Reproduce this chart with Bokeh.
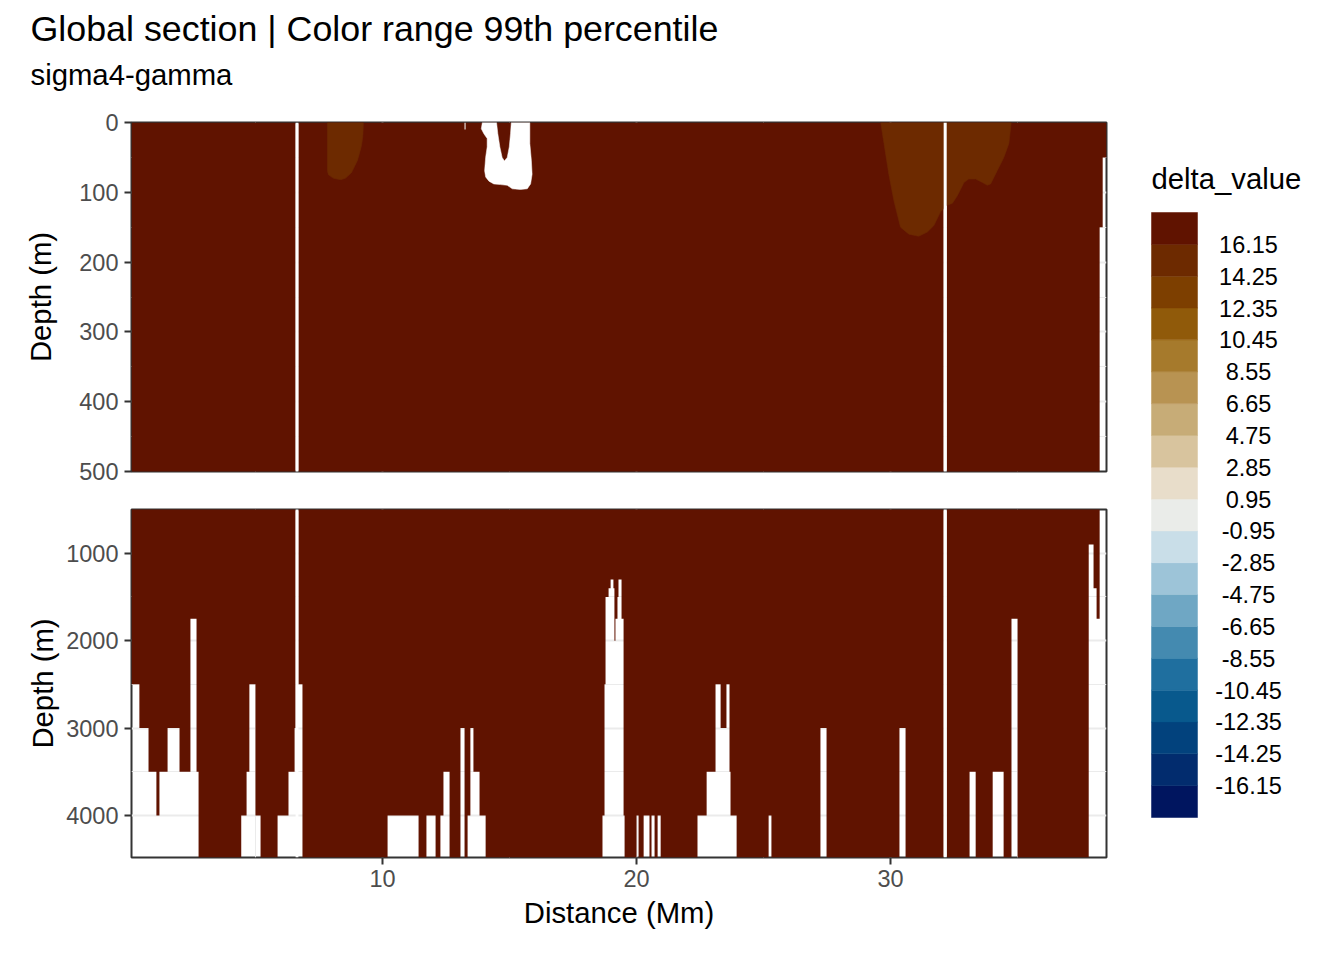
import numpy as np
from bokeh.plotting import figure
from bokeh.models import Range1d, FixedTicker, Title
from bokeh.layouts import column, row
from bokeh.core.properties import value
from bokeh.embed import file_html
from bokeh.resources import INLINE

FONT = "Liberation Sans"

# ---------------- texts ----------------
title_text = "Global section | Color range 99th percentile"
subtitle_text = "sigma4-gamma"
legend_title = "delta_value"
y_title = "Depth (m)"
x_title = "Distance (Mm)"

# ---------------- colour scale (binned) ----------------
legend_breaks = [-16.15, -14.25, -12.35, -10.45, -8.55, -6.65, -4.75, -2.85, -0.95,
                 0.95, 2.85, 4.75, 6.65, 8.55, 10.45, 12.35, 14.25, 16.15]
legend_limits = [-18.05, 18.05]
band_colors = ["#00155F", "#022C6E", "#02427D", "#08598D", "#1F6F9F", "#448AB0",
               "#6FA7C4", "#9DC4D8", "#C9DEE8", "#EAECE9", "#E8DDCA", "#D8C49E",
               "#C7AC77", "#B89352", "#A67A2C", "#905A0A", "#7D3F00", "#6D2A00",
               "#601300"]

# ---------------- axes ----------------
x_ticks = [10, 20, 30]
x_minor = [5, 15, 25, 35]
top_ticks = [0, 100, 200, 300, 400, 500]
top_minor = [50, 150, 250, 350, 450]
bot_ticks = [1000, 2000, 3000, 4000]
bot_minor = [1500, 2500, 3500]
dist_extent = [0.12, 38.50]
depth_split = 500
depth_max = 4480

# ---------------- section values ----------------
section_value = 17.6          # beyond the colour range -> top band
warm_value = 15.2             # 14.25 .. 16.15 band

warm1_dist = [7.83, 9.25, 9.23, 9.17, 9.02, 8.78, 8.54, 8.35, 8.07, 7.87, 7.83]
warm1_depth = [0, 0, 19, 34, 54, 72, 80, 82, 80, 75, 69]

warm2_dist = [29.61, 29.74, 29.93, 30.13, 30.39, 30.72, 31.11, 31.45, 31.70, 31.97,
              32.08, 32.19, 32.43, 32.63, 32.89, 33.08, 33.35, 33.61, 33.81, 33.94,
              34.20, 34.46, 34.66, 34.75]
warm2_depth = [0, 30, 74, 112, 150, 160, 163, 157, 148, 128,
               124, 119, 116, 105, 86, 81, 81, 86, 90, 88,
               69, 50, 30, 0]

na_blob_dist = [13.93, 14.49, 14.54, 14.62, 14.71, 14.80, 14.91, 14.99, 15.04, 15.07,
                15.80, 15.80, 15.86, 15.89, 15.83, 15.70, 15.43, 15.11, 14.91, 14.65,
                14.38, 14.19, 14.06, 14.02, 14.06, 14.12, 14.12, 13.99, 13.89]
na_blob_depth = [0, 0, 16, 35, 50, 55, 50, 35, 16, 0,
                 0, 30, 54, 74, 88, 95, 96, 95, 90, 89,
                 88, 84, 78, 69, 50, 35, 23, 16, 9]

# sea floor / missing deep cells: NA from floor_depth down to the bottom
floor_x0 = [0.12, 0.43, 0.79, 1.10, 1.22, 1.54, 2.01, 2.44, 2.68,
            4.44, 4.65, 4.76, 5.00, 5.87, 6.30, 6.54, 6.65,
            10.20, 11.73, 12.28, 12.40, 13.07, 13.35, 13.46, 13.58, 13.82,
            18.66, 18.74, 18.78, 18.90, 18.98, 19.09, 19.13, 19.17, 19.25, 19.29, 19.41, 19.49,
            20.00, 20.28, 20.59, 20.83,
            22.40, 22.76, 23.11, 23.31, 23.54, 23.66, 23.70, 25.20,
            27.24, 30.35, 33.11, 34.02, 34.76,
            37.80, 37.99, 38.11, 38.23, 38.35]
floor_x1 = [0.43, 0.79, 1.10, 1.22, 1.54, 2.01, 2.44, 2.68, 2.76,
            4.65, 4.76, 5.00, 5.20, 6.30, 6.54, 6.65, 6.85,
            11.42, 12.09, 12.40, 12.64, 13.23, 13.46, 13.58, 13.82, 14.06,
            18.74, 18.78, 18.90, 18.98, 19.09, 19.13, 19.17, 19.25, 19.29, 19.41, 19.49, 19.53,
            20.08, 20.51, 20.71, 20.95,
            22.76, 23.11, 23.31, 23.54, 23.66, 23.70, 23.94, 25.31,
            27.48, 30.59, 33.35, 34.45, 35.00,
            37.99, 38.11, 38.23, 38.35, 38.50]
floor_depth = [2500, 3000, 3500, 4000, 3500, 3000, 3500, 1750, 3500,
               4000, 3500, 2500, 4000, 4000, 3500, 3000, 2500,
               4000, 4000, 4000, 3500, 3000, 4000, 3000, 3500, 4000,
               4000, 2500, 1500, 1400, 1300, 1400, 2000, 1750, 1500, 1300, 1750, 4000,
               4000, 4000, 4000, 4000,
               4000, 3500, 2500, 3000, 2500, 3500, 4000, 4000,
               3000, 3000, 3500, 3500, 1750,
               900, 1400, 1750, 150, 50]

# missing profiles / cells (NA between top and bottom)
gap_x0 = [6.58, 32.09, 13.23]
gap_x1 = [6.69, 32.21, 13.27]
gap_top = [0, 0, 0]
gap_bottom = [4480, 4480, 10]


def band_color(v):
    return band_colors[int(np.searchsorted(legend_breaks, v))]


# ---------------- water region (step outline above the NA cells) ----------------
x_lo, x_hi = dist_extent
full_gap = [i for i in range(len(gap_x0)) if gap_bottom[i] >= depth_max]
part_gap = [i for i in range(len(gap_x0)) if gap_bottom[i] < depth_max]
na_cols = list(zip(floor_x0, floor_x1, floor_depth))
na_cols += [(gap_x0[i], gap_x1[i], gap_top[i]) for i in full_gap]
edges = sorted(set([x_lo, x_hi] + floor_x0 + floor_x1 + [gap_x0[i] for i in full_gap]
                   + [gap_x1[i] for i in full_gap]))
intervals = []
for a, b in zip(edges[:-1], edges[1:]):
    if b <= x_lo or a >= x_hi:
        continue
    m = 0.5 * (a + b)
    tops = [t for (x0, x1, t) in na_cols if x0 <= m < x1]
    intervals.append((a, b, min(tops) if tops else depth_max))

water_xs, water_ys = [], []
run = []
for iv in intervals + [(None, None, 0)]:
    if iv[2] > 0:
        run.append(iv)
        continue
    if run:
        xs = [run[0][0], run[-1][1]]
        ys = [0, 0]
        for a, b, d in reversed(run):
            xs += [b, a]
            ys += [d, d]
        water_xs.append(xs)
        water_ys.append(ys)
    run = []

MAIN_W = 1138
F_LEFT, F_W = 131, 975
TOP_FRAME_TOP, TOP_FRAME_H = 122, 349


def make_panel(d_lo, d_hi, height, b_top, b_bottom, yticks, yminor, label_standoff, show_x):
    p = figure(width=MAIN_W, height=height, x_range=Range1d(x_lo, x_hi),
               y_range=Range1d(d_hi, d_lo), output_backend="svg", toolbar_location=None,
               min_border_left=F_LEFT, min_border_right=MAIN_W - F_LEFT - F_W,
               min_border_top=b_top, min_border_bottom=b_bottom)
    p.title = None
    p.background_fill_color = "white"
    p.border_fill_color = "white"
    p.outline_line_color = "#333333"
    p.outline_line_width = 2

    p.xgrid.ticker = FixedTicker(ticks=x_ticks, minor_ticks=x_minor)
    p.ygrid.ticker = FixedTicker(ticks=yticks, minor_ticks=yminor)
    for g in (p.xgrid, p.ygrid):
        g.grid_line_color = "#EBEBEB"
        g.grid_line_width = 2
        g.minor_grid_line_color = "#EBEBEB"
        g.minor_grid_line_width = 1

    main_c = band_color(section_value)
    warm_c = band_color(warm_value)
    p.patches(water_xs, water_ys, fill_color=main_c, line_color=None)
    p.patch(warm1_dist, warm1_depth, fill_color=warm_c, line_color=warm_c, line_width=0.5)
    p.patch(warm2_dist, warm2_depth, fill_color=warm_c, line_color=warm_c, line_width=0.5)
    p.patch(na_blob_dist, na_blob_depth, fill_color="white", line_color="white", line_width=0.5)
    gi = full_gap + part_gap
    p.quad(left=[gap_x0[i] for i in gi], right=[gap_x1[i] for i in gi],
           top=[gap_top[i] for i in gi], bottom=[gap_bottom[i] for i in gi],
           fill_color="white", line_color=None)

    ax = p.yaxis[0]
    ax.ticker = FixedTicker(ticks=yticks)
    ax.axis_line_color = None
    ax.major_tick_line_color = "#333333"
    ax.major_tick_line_width = 2
    ax.major_tick_out = 7
    ax.major_tick_in = 0
    ax.minor_tick_line_color = None
    ax.major_label_standoff = 6
    ax.major_label_text_font = FONT
    ax.major_label_text_font_size = "23.5px"
    ax.major_label_text_color = "#4D4D4D"
    ax.axis_label = y_title
    ax.axis_label_text_font = FONT
    ax.axis_label_text_font_size = "29.3px"
    ax.axis_label_text_font_style = "normal"
    ax.axis_label_text_color = "black"
    ax.axis_label_standoff = label_standoff

    xa = p.xaxis[0]
    xa.ticker = FixedTicker(ticks=x_ticks)
    if show_x:
        xa.axis_line_color = None
        xa.major_tick_line_color = "#333333"
        xa.major_tick_line_width = 2
        xa.major_tick_out = 7
        xa.major_tick_in = 0
        xa.minor_tick_line_color = None
        xa.major_label_standoff = 5
        xa.major_label_text_font = FONT
        xa.major_label_text_font_size = "23.5px"
        xa.major_label_text_color = "#4D4D4D"
        xa.axis_label = x_title
        xa.axis_label_text_font = FONT
        xa.axis_label_text_font_size = "29.3px"
        xa.axis_label_text_font_style = "normal"
        xa.axis_label_text_color = "black"
        xa.axis_label_standoff = 6
    else:
        xa.visible = False
    return p


top = make_panel(0, depth_split, TOP_FRAME_TOP + TOP_FRAME_H + 19, TOP_FRAME_TOP, 19,
                 top_ticks, top_minor, 19, False)
bottom = make_panel(depth_split, depth_max, 19 + 348 + 95, 19, 95,
                    bot_ticks, bot_minor, 4, True)

# blank spacer, subtitle, then title (stacked upward from the panel)
top.add_layout(Title(text=" ", text_font_size="1px", standoff=22), "above")
top.add_layout(Title(text=subtitle_text, align="left", offset=30 - F_LEFT, standoff=14,
                     text_font=FONT, text_font_size="29.3px", text_font_style="normal",
                     text_color="black"), "above")
top.add_layout(Title(text=title_text, align="left", offset=30 - F_LEFT, standoff=0,
                     text_font=FONT, text_font_size="35.8px", text_font_style="normal",
                     text_color="black"), "above")

# ---------------- legend ----------------
LEG_W, LEG_H = 198, 952
bar_top_px, bar_bot_px = 212, 817
scale = (bar_bot_px - bar_top_px) / (legend_limits[1] - legend_limits[0])
y_hi = legend_limits[1] + bar_top_px / scale
y_lo = legend_limits[0] - (LEG_H - bar_bot_px) / scale
leg = figure(width=LEG_W, height=LEG_H, x_range=Range1d(0, LEG_W), y_range=Range1d(y_lo, y_hi),
             min_border=0, x_axis_location=None, y_axis_location=None,
             output_backend="svg", toolbar_location=None)
leg.grid.visible = False
leg.outline_line_color = None
band_edges = [legend_limits[0]] + legend_breaks + [legend_limits[1]]
leg.quad(left=13, right=59, bottom=band_edges[:-1], top=band_edges[1:],
         fill_color=band_colors, line_color=band_colors, line_width=0.5)
leg.text(x=[110] * len(legend_breaks), y=legend_breaks,
         text=[f"{b:.2f}" for b in legend_breaks], text_font=value(FONT),
         text_font_size="23.5px", text_color="black", text_align="center",
         text_baseline="middle")
leg.text(x=[13], y=[y_hi - 178 / scale], text=[legend_title], text_font=value(FONT),
         text_font_size="29.3px", text_color="black", text_baseline="alphabetic")

layout = row(column(top, bottom), leg)

open("out.html", "w").write(file_html(layout, INLINE))
